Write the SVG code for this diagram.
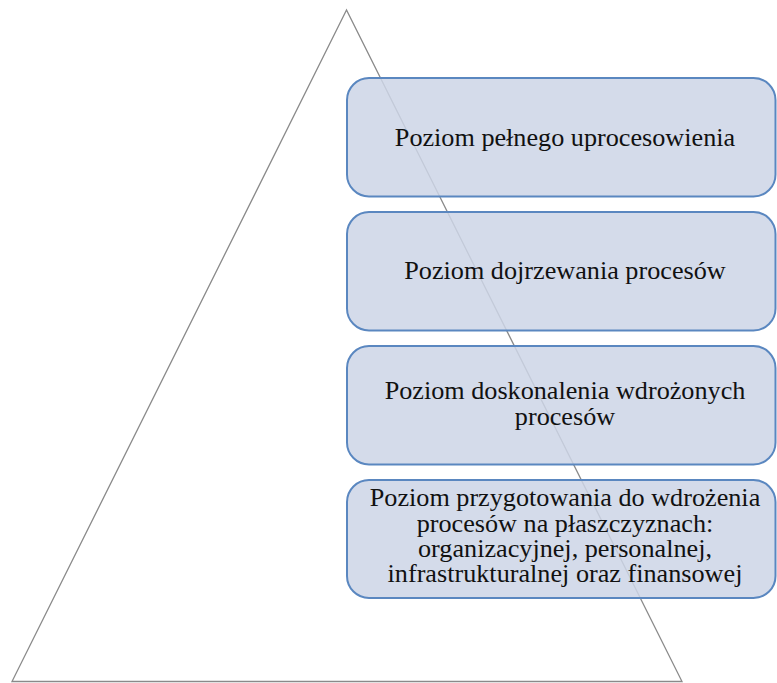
<svg xmlns="http://www.w3.org/2000/svg" width="777" height="683" viewBox="0 0 777 683">
  <style>
    .tri { fill: none; stroke: #8a8a8a; stroke-width: 1.3; }
    .box { fill: #cdd5e6; fill-opacity: 0.85; stroke: #5a87c0; stroke-width: 2; }
  </style>
  <rect width="777" height="683" fill="#ffffff"/>
  <!-- pyramid outline -->
  <g id="pyramid">
    <polygon class="tri" points="346.5,10 12,681.5 682,681.5"/>
  </g>
  <!-- level boxes, top to bottom; all labels share one serif text setup -->
  <g font-family="Liberation Serif, DejaVu Serif, serif" font-size="26.2" fill="#111111" text-anchor="middle">
    <g id="level4">
      <rect class="box" x="347" y="78" width="428.5" height="118.5" rx="22"/>
      <text x="565" y="146">Poziom pełnego uprocesowienia</text>
    </g>
    <g id="level3">
      <rect class="box" x="347" y="212" width="428.5" height="118.5" rx="22"/>
      <text x="565" y="279">Poziom dojrzewania procesów</text>
    </g>
    <g id="level2">
      <rect class="box" x="347" y="346" width="428.5" height="118.5" rx="22"/>
      <text x="565" y="399">Poziom doskonalenia wdrożonych</text>
      <text x="565" y="425">procesów</text>
    </g>
    <g id="level1">
      <rect class="box" x="347" y="480" width="428.5" height="118" rx="22"/>
      <text x="565" y="506">Poziom przygotowania do wdrożenia</text>
      <text x="565" y="531.5">procesów na płaszczyznach:</text>
      <text x="565" y="556.7">organizacyjnej, personalnej,</text>
      <text x="565" y="581.7">infrastrukturalnej oraz finansowej</text>
    </g>
  </g>
  <g id="connectors"/>
</svg>
